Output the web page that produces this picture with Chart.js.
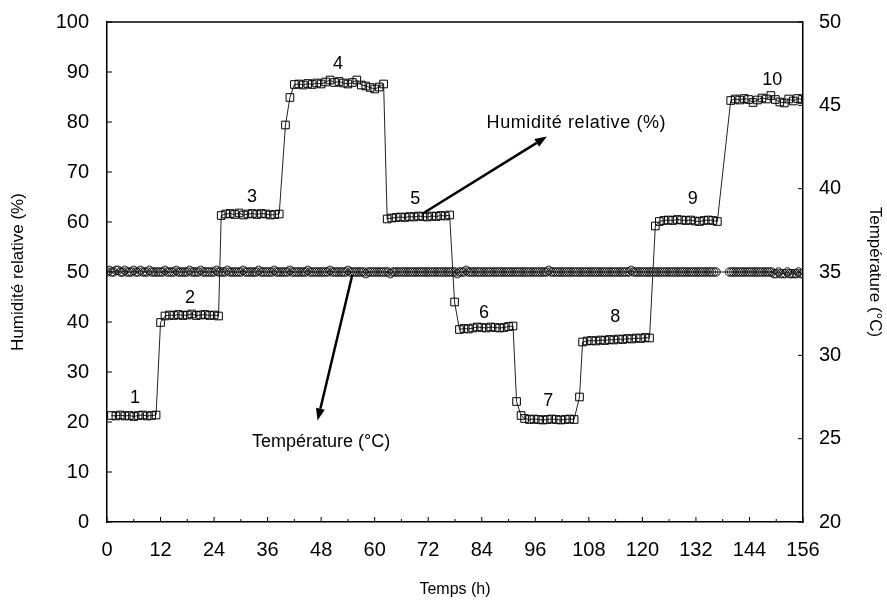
<!DOCTYPE html>
<html>
<head>
<meta charset="utf-8">
<script src="https://cdn.jsdelivr.net/npm/chart.js@4.4.1/dist/chart.umd.min.js"></script>
<style>
  html, body { margin: 0; padding: 0; background: #fff; }
</style>
</head>
<body>
<canvas id="myChart" width="887" height="601"></canvas>
<script>
// time axis (h)
let xTickStep = 12;
let xMin = 0, xMax = 156;

// relative humidity (%) readings: time (h) and value
let rhTimes = [
  1, 2, 3, 4, 5, 6, 7, 8, 9, 10, 11,
  12,
  13, 14, 15, 16, 17, 18, 19, 20, 21, 22, 23, 24, 25,
  25.6, 26.6, 27.6, 28.6, 29.6, 30.6, 31.6, 32.6, 33.6, 34.6, 35.6, 36.6, 37.6, 38.6,
  40, 41,
  42, 43, 44, 45, 46, 47, 48, 49, 50, 51, 52, 53, 54, 55, 56, 57, 58, 59, 60, 61, 62,
  62.8, 63.8, 64.8, 65.8, 66.8, 67.8, 68.8, 69.8, 70.8, 71.8, 72.8, 73.8, 74.8, 75.8, 76.8,
  77.9,
  79, 80, 81, 82, 83, 84, 85, 86, 87, 88, 89, 90, 91,
  91.8, 92.8,
  93.6, 94.7, 95.7, 96.7, 97.7, 98.7, 99.7, 100.7, 101.7, 102.7, 103.7, 104.7,
  105.9,
  106.6, 107.6, 108.6, 109.6, 110.6, 111.6, 112.6, 113.6, 114.6, 115.6, 116.6, 117.6, 118.6, 119.6, 120.6, 121.6,
  122.9,
  123.8, 124.8, 125.8, 126.8, 127.8, 128.8, 129.8, 130.8, 131.8, 132.8, 133.8, 134.8, 135.8, 136.8,
  139.8, 140.8, 141.8, 142.8, 143.8, 144.8, 145.8, 146.8, 147.8, 148.8, 149.8, 150.8, 151.8, 152.8, 153.8, 154.8, 155.8
];
let rhValues = [
  21.3, 21.2, 21.4, 21.2, 21.3, 21.1, 21.3, 21.4, 21.2, 21.3, 21.4,
  39.9,
  41.2, 41.4, 41.3, 41.5, 41.3, 41.4, 41.6, 41.3, 41.4, 41.5, 41.3, 41.4, 41.2,
  61.3, 61.6, 61.7, 61.5, 61.8, 61.4, 61.6, 61.7, 61.5, 61.7, 61.6, 61.4, 61.5, 61.6,
  79.4, 84.9,
  87.5, 87.6, 87.4, 87.7, 87.5, 87.8, 87.6, 88.0, 88.4, 87.9, 88.1, 87.8, 87.6, 87.9, 88.4, 87.4, 87.2, 86.9, 86.6, 87.0, 87.6,
  60.6, 60.8, 60.9, 61.0, 60.9, 61.1, 61.0, 61.2, 61.1, 61.0, 61.2, 61.1, 61.3, 61.2, 61.4,
  44.0,
  38.5, 38.7, 38.6, 38.8, 39.0, 38.9, 38.8, 39.0, 38.9, 38.8, 38.9, 39.1, 39.2,
  24.1, 21.3,
  20.7, 20.5, 20.6, 20.5, 20.4, 20.5, 20.6, 20.5, 20.4, 20.5, 20.6, 20.5,
  25.0,
  36.0, 36.2, 36.3, 36.2, 36.4, 36.3, 36.5, 36.4, 36.6, 36.5, 36.7, 36.6, 36.8, 36.7, 36.9, 36.8,
  59.2,
  60.1, 60.3, 60.4, 60.3, 60.5, 60.4, 60.3, 60.4, 60.2, 60.1, 60.3, 60.4, 60.3, 60.1,
  84.3, 84.6, 84.4, 84.7, 84.5, 83.9, 84.4, 84.8, 84.6, 85.3, 84.5, 84.0, 83.8, 84.6, 84.2, 84.7, 84.5
];

// temperature (°C), one reading every half hour from 0 h; null = missing
let tempStep = 0.5;
let tempValues = [
  35.0, 35.1, 35.0, 35.0, 35.1, 35.1, 35.0, 35.0, 35.1, 35.0, 35.0, 35.0, 35.1, 35.0, 35.0, 35.1, 35.0, 35.0, 35.0, 35.1, 35.0, 35.0, 35.0, 35.0,
  35.0, 35.0, 35.1, 35.0, 35.0, 35.0, 35.0, 35.1, 35.0, 35.0, 35.0, 35.0, 35.0, 35.1, 35.0, 35.0, 35.0, 35.0, 35.1, 35.0, 35.0, 35.0, 35.0, 35.0,
  35.0, 35.1, 35.0, 35.0, 35.0, 35.0, 35.1, 35.0, 35.0, 35.0, 35.0, 35.0, 35.0, 35.1, 35.0, 35.0, 35.0, 35.0, 35.0, 35.0, 35.1, 35.0, 35.0, 35.0,
  35.0, 35.0, 35.0, 35.1, 35.0, 35.0, 35.0, 35.0, 35.0, 35.0, 35.1, 35.0, 35.0, 35.0, 35.0, 35.0, 35.0, 35.0, 35.1, 35.0, 35.0, 35.0, 35.0, 35.0,
  35.0, 35.0, 35.0, 35.0, 35.1, 35.0, 35.0, 35.0, 35.0, 35.0, 35.0, 35.0, 35.1, 35.0, 35.0, 35.0, 35.0, 35.0, 35.0, 35.0, 34.9, 35.0, 35.0, 35.0,
  35.0, 35.0, 35.0, 35.0, 35.0, 35.0, 35.0, 34.9, 35.0, 35.0, 35.0, 35.0, 35.0, 35.0, 35.0, 35.0, 35.0, 35.0, 35.0, 35.0, 35.0, 35.0, 35.0, 35.0,
  35.0, 35.0, 35.0, 35.0, 35.0, 35.0, 35.0, 35.0, 35.0, 35.0, 35.0, 35.0, 35.0, 34.9, 35.0, 35.0, 35.0, 35.1, 35.0, 35.0, 35.0, 35.0, 35.0, 35.0,
  35.0, 35.0, 35.0, 35.0, 35.0, 35.0, 35.0, 35.0, 35.0, 35.0, 35.0, 35.0, 35.0, 35.0, 35.0, 35.0, 35.0, 35.0, 35.0, 35.0, 35.0, 35.0, 35.0, 35.0,
  35.0, 35.0, 35.0, 35.0, 35.0, 35.0, 35.1, 35.0, 35.0, 35.0, 35.0, 35.0, 35.0, 35.0, 35.0, 35.0, 35.0, 35.0, 35.0, 35.0, 35.0, 35.0, 35.0, 35.0,
  35.0, 35.0, 35.0, 35.0, 35.0, 35.0, 35.0, 35.0, 35.0, 35.0, 35.0, 35.0, 35.0, 35.0, 35.0, 35.0, 35.0, 35.0, 35.0, 35.1, 35.0, 35.0, 35.0, 35.0,
  35.0, 35.0, 35.0, 35.0, 35.0, 35.0, 35.0, 35.0, 35.0, 35.0, 35.0, 35.0, 35.0, 35.0, 35.0, 35.0, 35.0, 35.0, 35.0, 35.0, 35.0, 35.0, 35.0, 35.0,
  35.0, 35.0, 35.0, 35.0, 35.0, 35.0, 35.0, 35.0, 35.0, 35.0, null, null, null, null, null, 35.0, 35.0, 35.0, 35.0, 35.0, 35.0, 35.0, 35.0, 35.0,
  35.0, 35.0, 35.0, 35.0, 35.0, 35.0, 35.0, 35.0, 35.0, 35.0, 35.0, 34.9, 34.9, 35.0, 34.9, 34.9, 34.9, 35.0, 34.9, 34.9, 34.9, 34.9, 35.0, 34.9,
  34.9
];

// plateau numbers
let stageLabels = ['1', '2', '3', '4', '5', '6', '7', '8', '9', '10'];

const FONT = "'Liberation Sans', Arial, sans-serif";

// where the stage numbers and arrows sit, in data units (h, %)
const stageSpots = [[6.3, 24.7], [18.6, 44.8], [32.5, 64.9], [51.8, 91.6], [69.1, 64.5],
                    [84.5, 41.8], [98.9, 24.1], [113.9, 41.0], [131.3, 64.5], [149.1, 88.4]];
const arrows = [
  { from: [70.6, 61.6], to: [98.6, 77.1], text: 'Humidité relative (%)', at: [105.2, 79.7], spacing: '0.6px' },
  { from: [55.0, 49.5], to: [47.2, 20.3], text: 'Température (°C)', at: [48.0, 16.0], spacing: '0px' }
];

const notesPlugin = {
  id: 'notes',
  afterDraw(chart) {
    const { ctx, chartArea: a, scales } = chart;
    const X = v => scales.x.getPixelForValue(v);
    const Y = v => scales.y.getPixelForValue(v);
    ctx.save();
    ctx.strokeStyle = '#000';
    ctx.fillStyle = '#000';

    // top frame line
    ctx.lineWidth = 1.5;
    ctx.beginPath();
    ctx.moveTo(a.left, a.top);
    ctx.lineTo(a.right, a.top);
    ctx.stroke();

    // inward ticks
    ctx.lineWidth = 1;
    ctx.beginPath();
    scales.x.ticks.forEach((t, i) => {
      let px = X(t.value);
      ctx.moveTo(px, a.bottom);
      ctx.lineTo(px, a.bottom - 5);
      if (i < scales.x.ticks.length - 1) {
        let mx = X(t.value + xTickStep / 2);
        ctx.moveTo(mx, a.bottom);
        ctx.lineTo(mx, a.bottom - 3);
      }
    });
    scales.y.ticks.forEach(t => {
      let py = scales.y.getPixelForValue(t.value);
      ctx.moveTo(a.left, py);
      ctx.lineTo(a.left + 5, py);
    });
    scales.y2.ticks.forEach(t => {
      let py = scales.y2.getPixelForValue(t.value);
      ctx.moveTo(a.right, py);
      ctx.lineTo(a.right - 5, py);
    });
    ctx.stroke();

    // stage numbers
    ctx.font = '18px ' + FONT;
    ctx.textAlign = 'center';
    ctx.textBaseline = 'middle';
    stageLabels.forEach((s, i) => {
      ctx.fillText(s, X(stageSpots[i][0]), Y(stageSpots[i][1]));
    });

    // arrows with captions
    arrows.forEach(ar => {
      let x0 = X(ar.from[0]), y0 = Y(ar.from[1]);
      let x1 = X(ar.to[0]), y1 = Y(ar.to[1]);
      let ang = Math.atan2(y1 - y0, x1 - x0);
      let head = 12, half = 4.5;
      let bx = x1 - head * Math.cos(ang), by = y1 - head * Math.sin(ang);
      ctx.lineWidth = 2.5;
      ctx.beginPath();
      ctx.moveTo(x0, y0);
      ctx.lineTo(bx, by);
      ctx.stroke();
      ctx.beginPath();
      ctx.moveTo(x1, y1);
      ctx.lineTo(bx + half * Math.sin(ang), by - half * Math.cos(ang));
      ctx.lineTo(bx - half * Math.sin(ang), by + half * Math.cos(ang));
      ctx.closePath();
      ctx.fill();
      ctx.letterSpacing = ar.spacing;
      ctx.fillText(ar.text, X(ar.at[0]), Y(ar.at[1]));
      ctx.letterSpacing = '0px';
    });
    ctx.restore();
  }
};

function createChart() {
  const ctx = document.getElementById('myChart').getContext('2d');
  new Chart(ctx, {
    type: 'scatter',
    data: {
      datasets: [{
        label: 'Humidité relative (%)',
        data: rhTimes.map((t, i) => ({ x: t, y: rhValues[i] })),
        yAxisID: 'y',
        showLine: true,
        borderColor: '#222',
        borderWidth: 1,
        pointStyle: 'rect',
        pointRadius: 5.4,
        pointBorderWidth: 1,
        pointBorderColor: '#000',
        pointBackgroundColor: 'rgba(0,0,0,0)'
      }, {
        label: 'Température (°C)',
        data: tempValues.map((v, i) => ({ x: i * tempStep, y: v })),
        yAxisID: 'y2',
        showLine: true,
        spanGaps: true,
        borderColor: '#222',
        borderWidth: 1,
        pointStyle: 'circle',
        pointRadius: 4.2,
        pointBorderWidth: 1,
        pointBorderColor: '#111',
        pointBackgroundColor: 'rgba(0,0,0,0)'
      }]
    },
    options: {
      responsive: false,
      animation: false,
      events: [],
      layout: { padding: { top: 20, left: 0, right: 0, bottom: 0 } },
      plugins: { legend: { display: false }, tooltip: { enabled: false } },
      scales: {
        x: {
          type: 'linear',
          min: xMin,
          max: xMax,
          afterFit: s => { s.height = 79; },
          ticks: { stepSize: xTickStep, color: '#000', padding: 8, maxRotation: 0, font: { family: FONT, size: 20 } },
          grid: { display: false },
          border: { display: true, color: '#000', width: 1.5 },
          title: { display: true, text: 'Temps (h)', color: '#000', font: { family: FONT, size: 16 }, padding: { top: 4, bottom: 2 } }
        },
        y: {
          position: 'left',
          min: 0,
          max: 100,
          afterFit: s => { s.width = 107; },
          ticks: { stepSize: 10, color: '#000', padding: 10, font: { family: FONT, size: 20 } },
          grid: { display: false },
          border: { display: true, color: '#000', width: 1.5 },
          title: { display: true, text: 'Humidité relative (%)', color: '#000', font: { family: FONT, size: 17 }, padding: { top: 8, bottom: 0 } }
        },
        y2: {
          position: 'right',
          min: 20,
          max: 50,
          afterFit: s => { s.width = 84; },
          ticks: { stepSize: 5, color: '#000', padding: 8, font: { family: FONT, size: 20 } },
          grid: { display: false },
          border: { display: true, color: '#000', width: 1.5 },
          title: { display: true, text: 'Température (°C)', color: '#000', font: { family: FONT, size: 17 }, padding: { top: 2, bottom: 0 } }
        }
      }
    },
    plugins: [notesPlugin]
  });
}

window.onload = createChart;
</script>
</body>
</html>
